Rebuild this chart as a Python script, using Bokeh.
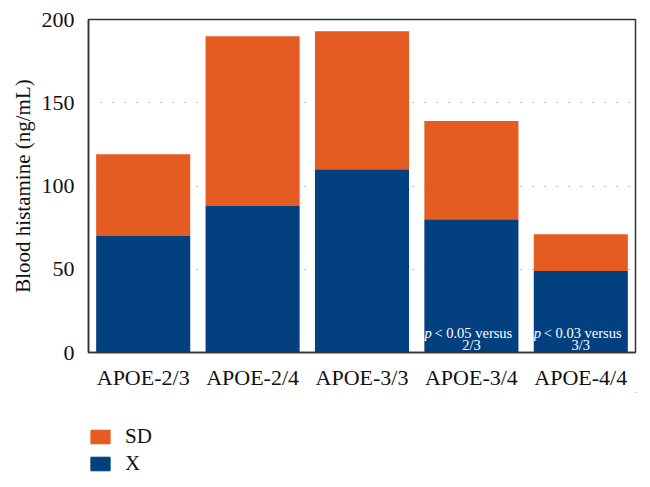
from bokeh.plotting import figure
from bokeh.layouts import column
from bokeh.models import FactorRange, Range1d, Legend, LegendItem, ColumnDataSource, SingleIntervalTicker
from bokeh.core.properties import value
from bokeh.embed import file_html
from bokeh.resources import INLINE

groups = ["APOE-2/3", "APOE-2/4", "APOE-3/3", "APOE-3/4", "APOE-4/4"]
x_mean = [70, 88, 110, 80, 49]
sd = [49, 102, 83, 59, 22]
note_groups = ["APOE-3/4", "APOE-4/4"]
note_line1 = ["< 0.05 versus", "< 0.03 versus"]
note_line2 = ["2/3", "3/3"]
legend_labels = ["SD", "X"]

BLUE = "#02407F"
ORANGE = "#E45C21"
SERIF = "Liberation Serif"

src = ColumnDataSource(dict(g=groups, X=x_mean, SD=sd))

p = figure(x_range=FactorRange(*groups, range_padding=0), y_range=Range1d(0, 200),
           width=642, height=392, output_backend="svg", toolbar_location=None,
           min_border_left=88, min_border_right=7, min_border_top=19, min_border_bottom=38)

rs = p.vbar_stack(["X", "SD"], x="g", width=0.86, color=[BLUE, ORANGE], source=src, line_color=None)

# notes
nsrc = ColumnDataSource(dict(g=note_groups, l1=note_line1, l2=note_line2,
                             y1=[11.5, 11.5], y2=[4.6, 4.6], pp=["p", "p"]))
p.text(x="g", y="y1", text="pp", source=nsrc, text_color="white", text_font=value(SERIF),
       text_font_size="14.5px", text_font_style="italic", text_align="left", text_baseline="middle",
       x_offset=-47)
p.text(x="g", y="y1", text="l1", source=nsrc, text_color="white", text_font=value(SERIF),
       text_font_size="14.5px", text_align="left", text_baseline="middle", x_offset=-37)
p.text(x="g", y="y2", text="l2", source=nsrc, text_color="white", text_font=value(SERIF),
       text_font_size="14.5px", text_align="center", text_baseline="middle")

p.xgrid.grid_line_color = None
p.ygrid.ticker = SingleIntervalTicker(interval=50)
p.ygrid.grid_line_color = "#888888"
p.ygrid.grid_line_dash = "1 11"
p.ygrid.grid_line_width = 1
p.ygrid.level = "underlay"

p.yaxis.ticker = SingleIntervalTicker(interval=50)
for ax in (p.xaxis[0], p.yaxis[0]):
    ax.major_tick_line_color = None
    ax.minor_tick_line_color = None
    ax.major_label_text_font = SERIF
    ax.major_label_text_font_size = "22px"
    ax.major_label_text_color = "#111111"
    ax.axis_line_color = "#333333"
    ax.axis_line_width = 1.5
p.yaxis.axis_label = "Blood histamine (ng/mL)"
p.yaxis.axis_label_text_font = SERIF
p.yaxis.axis_label_text_font_style = "normal"
p.yaxis.axis_label_text_font_size = "21px"
p.yaxis.axis_label_text_color = "#111111"
p.yaxis.axis_label_standoff = 4
p.yaxis.major_label_standoff = 8
p.xaxis.major_label_standoff = 6

p.outline_line_color = "#333333"
p.outline_line_width = 1.5

# legend panel
lf = figure(width=642, height=95, output_backend="svg", toolbar_location=None,
            x_range=Range1d(0, 1), y_range=Range1d(0, 1),
            min_border_left=88, min_border_right=7, min_border_top=0, min_border_bottom=0)
lf.axis.visible = False
lf.grid.visible = False
lf.outline_line_color = None
# swatch renderers kept outside the visible range; only their legend glyphs show
r_sd = lf.vbar(x=[5], top=[5], bottom=[4], width=0.1, color=ORANGE)
r_x = lf.vbar(x=[5], top=[5], bottom=[4], width=0.1, color=BLUE)
legend = Legend(items=[LegendItem(label=legend_labels[0], renderers=[r_sd]),
                       LegendItem(label=legend_labels[1], renderers=[r_x])],
                location=(0, 11), orientation="vertical",
                glyph_width=24, glyph_height=17, spacing=2, label_standoff=13,
                label_text_font=SERIF, label_text_font_size="21px",
                label_text_color="#111111", label_height=17,
                border_line_color=None, background_fill_alpha=0,
                margin=0, padding=0)
lf.add_layout(legend)

layout = column(p, lf, spacing=0)
open("out.html", "w").write(file_html(layout, INLINE))
